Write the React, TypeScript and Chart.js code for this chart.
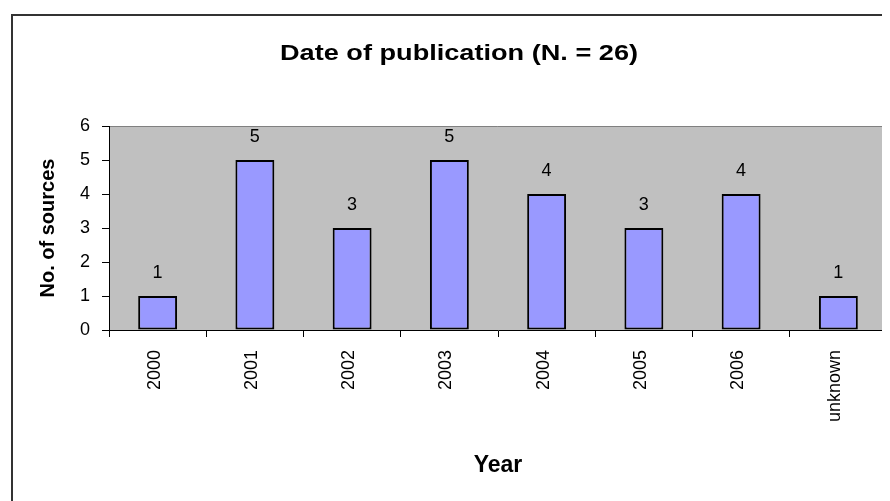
import React, { useEffect, useRef } from 'react';
import { Chart, registerables } from 'chart.js';

Chart.register(...registerables);

const categories = ['2000', '2001', '2002', '2003', '2004', '2005', '2006', 'unknown'];
const sources = [1, 5, 3, 5, 4, 3, 4, 1];
const yMin = 0;
const yMax = 6;
const yStep = 1;
const chartTitle = 'Date of publication (N. = 26)';
const xTitle = 'Year';
const yTitle = 'No. of sources';

const FONT = '"Liberation Sans", Arial, Helvetica, sans-serif';
const W = 882;
const H = 493;

const framePlugin = {
  id: 'framePlugin',
  beforeDraw(chart: any) {
    const { ctx, chartArea } = chart;
    ctx.save();
    // outer frame (cropped on right and bottom)
    ctx.fillStyle = '#333333';
    ctx.fillRect(3, 6, W - 3, 2);
    ctx.fillRect(3, 6, 2, H - 6);
    // plot area
    ctx.fillStyle = '#C0C0C0';
    ctx.fillRect(chartArea.left, chartArea.top, chartArea.right - chartArea.left, chartArea.bottom - chartArea.top);
    ctx.strokeStyle = '#808080';
    ctx.lineWidth = 1;
    ctx.beginPath();
    ctx.moveTo(chartArea.left, chartArea.top + 0.5);
    ctx.lineTo(chartArea.right - 0.5, chartArea.top + 0.5);
    ctx.lineTo(chartArea.right - 0.5, chartArea.bottom);
    ctx.stroke();
    ctx.restore();
  },
  afterDraw(chart: any) {
    const { ctx } = chart;
    ctx.save();
    ctx.fillStyle = '#000';
    ctx.font = `bold 22px ${FONT}`;
    ctx.textAlign = 'center';
    ctx.textBaseline = 'alphabetic';
    const w = ctx.measureText(chartTitle).width;
    const sx = w > 0 ? 358 / w : 1;
    ctx.translate(451, 52);
    ctx.scale(sx, 1);
    ctx.fillText(chartTitle, 0, 0);
    ctx.restore();
  },
};

const valueLabelPlugin = {
  id: 'valueLabelPlugin',
  afterDatasetsDraw(chart: any) {
    const { ctx } = chart;
    const meta = chart.getDatasetMeta(0);
    const data = chart.data.datasets[0].data;
    ctx.save();
    ctx.fillStyle = '#000';
    ctx.font = `18px ${FONT}`;
    ctx.textAlign = 'center';
    ctx.textBaseline = 'middle';
    meta.data.forEach((bar: any, i: number) => {
      ctx.fillText(String(data[i]), bar.x, bar.y - 23);
    });
    ctx.restore();
  },
};

export default function App() {
  const ref = useRef<HTMLCanvasElement | null>(null);

  useEffect(() => {
    if (!ref.current) return;
    const chart = new Chart(ref.current, {
      type: 'bar',
      data: {
        labels: categories,
        datasets: [
          {
            data: sources,
            backgroundColor: '#9999FF',
            borderColor: '#000000',
            borderWidth: 2,
            borderSkipped: false,
            barPercentage: 0.4,
            categoryPercentage: 1,
          },
        ],
      },
      options: {
        responsive: false,
        animation: false,
        layout: { padding: { left: 23, right: 3, top: 118, bottom: 0 } },
        plugins: {
          legend: { display: false },
          tooltip: { enabled: false },
          title: { display: false },
        },
        scales: {
          x: {
            type: 'category',
            offset: true,
            afterFit(scale: any) {
              scale.height = 171;
            },
            grid: {
              offset: true,
              drawOnChartArea: false,
              drawTicks: true,
              tickLength: 7,
              color: '#000',
            },
            border: { display: true, color: '#000', width: 1 },
            ticks: {
              color: '#000',
              font: { family: FONT, size: 18 },
              padding: 13,
              minRotation: 90,
              maxRotation: 90,
              autoSkip: false,
              labelOffset: -3,
            },
            title: {
              display: true,
              text: xTitle,
              color: '#000',
              font: { family: FONT, size: 23, weight: 'bold', lineHeight: 1.2 },
              padding: { top: 0, bottom: 22 },
            },
          },
          y: {
            min: yMin,
            max: yMax,
            afterFit(scale: any) {
              scale.width = 78;
            },
            grid: {
              drawOnChartArea: false,
              drawTicks: true,
              tickLength: 7,
              color: '#000',
            },
            border: { display: true, color: '#000', width: 1 },
            ticks: {
              stepSize: yStep,
              color: '#000',
              font: { family: FONT, size: 18 },
              padding: 12,
            },
            title: {
              display: true,
              text: yTitle,
              color: '#000',
              font: { family: FONT, size: 20, weight: 'bold', lineHeight: 1.2 },
              padding: { top: 5, bottom: 0 },
            },
          },
        },
      },
      plugins: [framePlugin, valueLabelPlugin],
    } as any);
    return () => chart.destroy();
  }, []);

  return (
    <div style={{ width: W, height: H }}>
      <canvas ref={ref} width={W} height={H} style={{ display: 'block' }} />
    </div>
  );
}
